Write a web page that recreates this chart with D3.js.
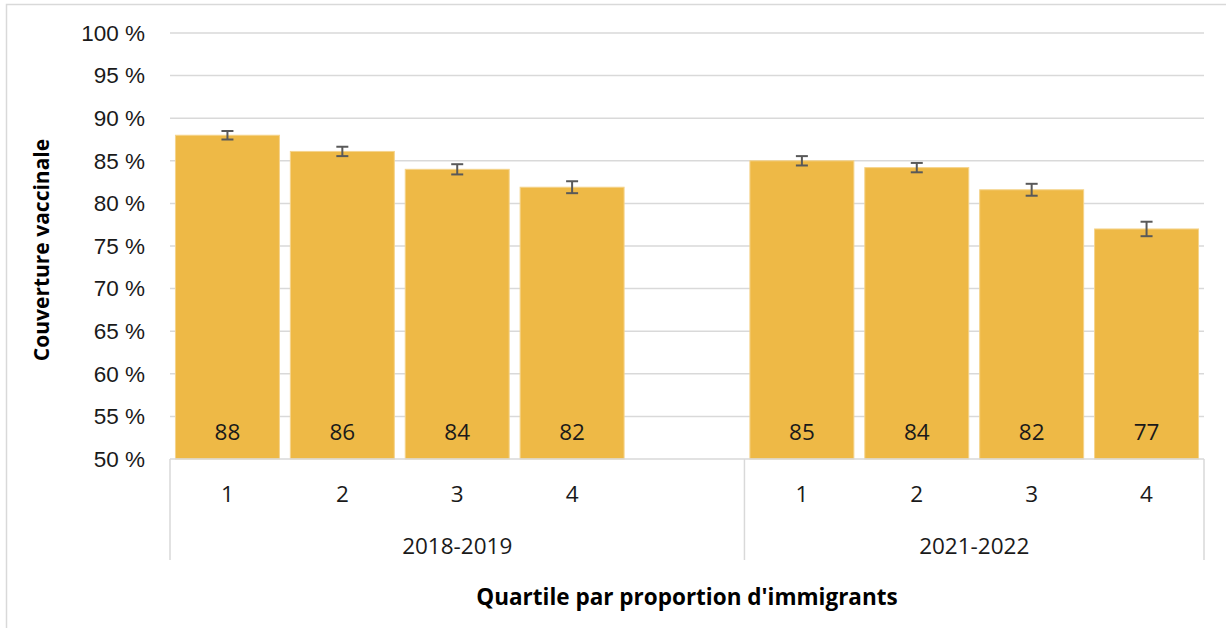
<!DOCTYPE html>
<html>
<head>
<meta charset="utf-8">
<script src="https://cdn.jsdelivr.net/npm/d3@7"></script>
<style>
  body { margin: 0; background: #fff; }
  svg { font-family: "Open Sans", sans-serif; }
  .tick text { fill: #1a1a1a; }
</style>
</head>
<body>
<div id="chart"></div>
<script>
// data
var periods = ["2018-2019", "2021-2022"];
var quartiles = ["1", "2", "3", "4"];
var values2018 = [88.0, 86.1, 84.0, 81.9];
var values2021 = [85.0, 84.2, 81.6, 77.0];
var err2018 = [0.5, 0.55, 0.6, 0.7];
var err2021 = [0.55, 0.55, 0.7, 0.85];
var yTicks = [50, 55, 60, 65, 70, 75, 80, 85, 90, 95, 100];

var W = 1226, H = 628;
var margin = {left: 170, right: 22, top: 33, bottom: 169};
var fs = "22.5px";

// one slot per bar, plus an empty slot between the two periods
var slots = [];
quartiles.forEach(function(q, i) {
  slots.push({key: "a" + q, q: q, period: 0, v: values2018[i], e: err2018[i]});
});
slots.push({key: "gap", q: null});
quartiles.forEach(function(q, i) {
  slots.push({key: "b" + q, q: q, period: 1, v: values2021[i], e: err2021[i]});
});
var bars = slots.filter(function(d) { return d.q !== null; });

var svg = d3.select("#chart").append("svg")
  .attr("width", W).attr("height", H);

// outer frame
svg.append("rect")
  .attr("x", 6.5).attr("y", 4.5)
  .attr("width", W + 20).attr("height", H + 20)
  .attr("fill", "none").attr("stroke", "#d9d9d9").attr("stroke-width", 1.5);

var x = d3.scaleBand()
  .domain(slots.map(function(d) { return d.key; }))
  .range([margin.left, W - margin.right])
  .paddingInner(0.095).paddingOuter(0.0475);

var y = d3.scaleLinear()
  .domain([50, 100])
  .range([H - margin.bottom, margin.top]);

// gridlines
svg.append("g")
  .selectAll("line")
  .data(yTicks.slice(1))
  .enter().append("line")
  .attr("x1", margin.left).attr("x2", W - margin.right)
  .attr("y1", function(d) { return y(d); }).attr("y2", function(d) { return y(d); })
  .attr("stroke", "#d9d9d9").attr("stroke-width", 1.5);

// y axis labels
var yAxis = svg.append("g")
  .attr("transform", "translate(" + margin.left + ",0)")
  .call(d3.axisLeft(y).tickValues(yTicks).tickSize(0).tickPadding(25)
    .tickFormat(function(d) { return d + " %"; }));
yAxis.select(".domain").remove();
yAxis.selectAll("text").style("font-size", fs);

// bars
svg.append("g")
  .selectAll("rect")
  .data(bars)
  .enter().append("rect")
  .attr("x", function(d) { return x(d.key); })
  .attr("width", x.bandwidth())
  .attr("y", function(d) { return y(d.v); })
  .attr("height", function(d) { return y(50) - y(d.v); })
  .attr("fill", "#eeb946")
  .attr("stroke", "#f5d48c").attr("stroke-width", 1);

// error bars
var eb = svg.append("g").attr("stroke", "#595959").attr("stroke-width", 2);
bars.forEach(function(d) {
  var cx = x(d.key) + x.bandwidth() / 2;
  eb.append("line").attr("x1", cx).attr("x2", cx)
    .attr("y1", y(d.v + d.e)).attr("y2", y(d.v - d.e));
  [d.v + d.e, d.v - d.e].forEach(function(v) {
    eb.append("line").attr("x1", cx - 6).attr("x2", cx + 6)
      .attr("y1", y(v)).attr("y2", y(v));
  });
});

// value labels
svg.append("g")
  .selectAll("text")
  .data(bars)
  .enter().append("text")
  .attr("x", function(d) { return x(d.key) + x.bandwidth() / 2; })
  .attr("y", y(50) - 27)
  .attr("dy", "0.35em")
  .attr("text-anchor", "middle")
  .style("font-size", fs).attr("fill", "#1a1a1a")
  .text(function(d) { return Math.round(d.v); });

// category axis
var axisY = y(50);
var ax = svg.append("g").attr("stroke", "#d9d9d9").attr("stroke-width", 1.5);
ax.append("line").attr("x1", margin.left).attr("x2", W - margin.right)
  .attr("y1", axisY).attr("y2", axisY);
var sep = [margin.left, x("b1") - x.step() * x.paddingInner() / 2, W - margin.right];
sep.forEach(function(px) {
  ax.append("line").attr("x1", px).attr("x2", px)
    .attr("y1", axisY).attr("y2", 560);
});

svg.append("g")
  .selectAll("text")
  .data(bars)
  .enter().append("text")
  .attr("x", function(d) { return x(d.key) + x.bandwidth() / 2; })
  .attr("y", 494).attr("dy", "0.35em")
  .attr("text-anchor", "middle")
  .style("font-size", fs).attr("fill", "#1a1a1a")
  .text(function(d) { return d.q; });

svg.append("g")
  .selectAll("text")
  .data(periods)
  .enter().append("text")
  .attr("x", function(d, i) { return (sep[i] + sep[i + 1]) / 2; })
  .attr("y", 546).attr("dy", "0.35em")
  .attr("text-anchor", "middle")
  .style("font-size", fs).attr("fill", "#1a1a1a")
  .text(function(d) { return d; });

// axis titles
svg.append("text")
  .attr("x", (margin.left + W - margin.right) / 2).attr("y", 597).attr("dy", "0.35em")
  .attr("text-anchor", "middle")
  .style("font-size", "22.5px").style("font-weight", "bold").attr("fill", "#000")
  .text("Quartile par proportion d'immigrants");

svg.append("text")
  .attr("transform", "translate(42," + 250 + ") rotate(-90)")
  .attr("dy", "0.35em")
  .attr("text-anchor", "middle")
  .style("font-size", "21px").style("font-weight", "bold").attr("fill", "#000")
  .text("Couverture vaccinale");
</script>
</body>
</html>
